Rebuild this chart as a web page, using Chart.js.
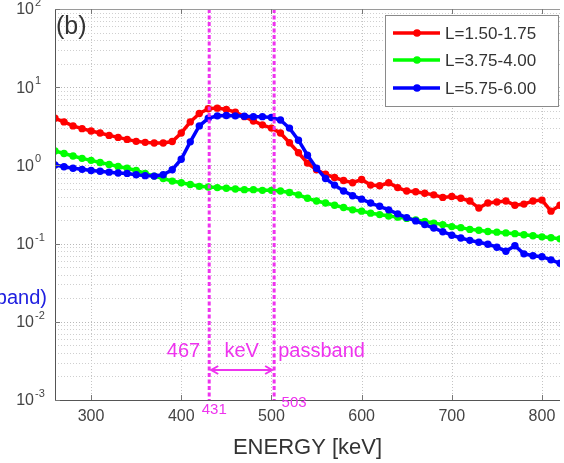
<!DOCTYPE html>
<html>
<head>
<meta charset="utf-8">
<script src="https://cdn.jsdelivr.net/npm/chart.js@4.4.1/dist/chart.umd.min.js"></script>
<style>
  html, body { margin: 0; padding: 0; background: #ffffff; }
  #c { display: block; }
</style>
</head>
<body>
<canvas id="c" width="564" height="463"></canvas>
<script>
// Energy channels [keV]
const energies = [260,270,280,290,300,310,320,330,340,350,360,370,380,390,400,410,420,430,440,450,
  460,470,480,490,500,510,520,530,540,550,560,570,580,590,600,610,620,630,640,650,
  660,670,680,690,700,710,720,730,740,750,760,770,780,790,800,810,820];

// Spectra per L-shell bin
const fluxL150 = [4.0,3.6,3.2,2.95,2.75,2.6,2.42,2.28,2.15,2.03,1.97,1.93,1.93,2.02,2.6,3.6,4.6,5.3,5.4,5.2,
  4.8,4.2,3.7,3.3,3.0,2.6,1.95,1.45,1.07,0.88,0.77,0.7,0.64,0.6,0.66,0.56,0.55,0.6,0.52,0.47,
  0.46,0.44,0.42,0.39,0.4,0.38,0.35,0.285,0.33,0.34,0.35,0.31,0.32,0.35,0.36,0.26,0.31];
const fluxL375 = [1.53,1.42,1.32,1.23,1.16,1.09,1.03,0.97,0.92,0.86,0.79,0.73,0.68,0.63,0.6,0.57,0.54,0.53,0.52,0.51,
  0.5,0.49,0.49,0.48,0.48,0.47,0.45,0.42,0.38,0.35,0.33,0.31,0.29,0.27,0.26,0.245,0.235,0.225,0.218,0.21,
  0.2,0.192,0.183,0.175,0.165,0.16,0.152,0.148,0.143,0.14,0.137,0.134,0.13,0.126,0.122,0.119,0.115];
const fluxL575 = [1.01,0.96,0.92,0.89,0.86,0.84,0.82,0.8,0.79,0.76,0.74,0.73,0.76,0.88,1.2,2.0,3.2,4.0,4.3,4.35,
  4.3,4.25,4.2,4.2,4.1,3.8,3.0,2.1,1.35,0.92,0.68,0.56,0.47,0.41,0.37,0.33,0.30,0.27,0.24,0.215,
  0.195,0.175,0.158,0.142,0.128,0.118,0.11,0.104,0.098,0.09,0.08,0.094,0.074,0.07,0.068,0.062,0.056];

const seriesLabels = ['L=1.50-1.75', 'L=3.75-4.00', 'L=5.75-6.00'];
const seriesColors = ['#ff0000', '#00ff00', '#0000ff'];

// Axis ticks
const xTicks = [300, 400, 500, 600, 700, 800];
const yExponents = [-3, -2, -1, 0, 1, 2];

// Passband edges [keV] and centre
const passLow = 431;
const passHigh = 503;
const passCentre = 467;

const FONT = '"Liberation Sans", Arial, Helvetica, sans-serif';
const MAGENTA = '#ee33ee';

function pts(vals) { return energies.map((e, i) => ({ x: e, y: vals[i] })); }

const seriesData = [fluxL150, fluxL375, fluxL575];
const datasets = seriesData.map((vals, i) => ({
  label: seriesLabels[i],
  data: pts(vals),
  borderColor: seriesColors[i],
  backgroundColor: seriesColors[i],
  borderWidth: 3.5,
  pointRadius: 3.7,
  pointBorderWidth: 0,
  pointBackgroundColor: seriesColors[i],
  tension: 0,
  order: 3 - i
}));

const decor = {
  id: 'decor',
  beforeDatasetsDraw(chart) {
    const { ctx, chartArea: a, scales: { x, y } } = chart;
    ctx.save();
    ctx.beginPath();
    ctx.rect(a.left, a.top, a.right - a.left, a.bottom - a.top);
    ctx.clip();
    ctx.strokeStyle = '#c4c4c4';
    ctx.lineWidth = 1;
    ctx.setLineDash([1, 2]);
    xTicks.forEach(v => {
      const px = Math.round(x.getPixelForValue(v)) + 0.5;
      ctx.beginPath(); ctx.moveTo(px, a.top); ctx.lineTo(px, a.bottom); ctx.stroke();
    });
    for (let k = -3; k <= 1; k++) {
      for (let m = 1; m <= 9; m++) {
        const py = Math.round(y.getPixelForValue(m * Math.pow(10, k))) + 0.5;
        ctx.strokeStyle = m === 1 ? '#b8b8b8' : '#cfcfcf';
        ctx.beginPath(); ctx.moveTo(a.left, py); ctx.lineTo(a.right, py); ctx.stroke();
      }
    }
    ctx.restore();
  },
  afterDatasetsDraw(chart) {
    const { ctx, chartArea: a, scales: { x, y } } = chart;
    ctx.save();

    // passband edges
    ctx.strokeStyle = MAGENTA;
    ctx.lineWidth = 3;
    ctx.setLineDash([4, 2.5]);
    [passLow, passHigh].forEach(v => {
      const px = x.getPixelForValue(v);
      ctx.beginPath(); ctx.moveTo(px, a.top); ctx.lineTo(px, a.bottom); ctx.stroke();
    });
    ctx.setLineDash([]);

    // axes box
    ctx.lineWidth = 1;
    ctx.strokeStyle = '#9a9a9a';
    ctx.beginPath(); ctx.moveTo(a.left, a.top + 0.5); ctx.lineTo(a.right, a.top + 0.5); ctx.stroke();
    ctx.strokeStyle = '#555';
    ctx.beginPath();
    ctx.moveTo(a.left + 0.5, a.top); ctx.lineTo(a.left + 0.5, a.bottom + 0.5); ctx.lineTo(a.right, a.bottom + 0.5);
    ctx.stroke();

    // tick marks (inside)
    ctx.strokeStyle = '#777';
    xTicks.forEach(v => {
      const px = Math.round(x.getPixelForValue(v)) + 0.5;
      ctx.beginPath(); ctx.moveTo(px, a.bottom); ctx.lineTo(px, a.bottom - 5); ctx.stroke();
      ctx.beginPath(); ctx.moveTo(px, a.top); ctx.lineTo(px, a.top + 5); ctx.stroke();
    });
    yExponents.forEach(k => {
      const py = Math.round(y.getPixelForValue(Math.pow(10, k))) + 0.5;
      ctx.beginPath(); ctx.moveTo(a.left, py); ctx.lineTo(a.left + 5, py); ctx.stroke();
    });

    // y tick labels with superscript exponents
    ctx.fillStyle = '#444';
    ctx.textBaseline = 'middle';
    yExponents.forEach(k => {
      const py = y.getPixelForValue(Math.pow(10, k));
      ctx.font = '16px ' + FONT;
      ctx.textAlign = 'right';
      ctx.fillText('10', 34, py + 1);
      ctx.font = '11px ' + FONT;
      ctx.textAlign = 'left';
      ctx.fillText(String(k), 35, py - 6);
    });

    // passband annotation
    const pL = x.getPixelForValue(passLow);
    const pH = x.getPixelForValue(passHigh);
    const pC = x.getPixelForValue(passCentre);
    ctx.fillStyle = MAGENTA;
    ctx.font = '20px ' + FONT;
    ctx.textBaseline = 'middle';
    ctx.textAlign = 'right';
    ctx.fillText('467', pL - 9, 351);
    ctx.textAlign = 'center';
    ctx.fillText('keV', pC, 351);
    ctx.textAlign = 'left';
    ctx.fillText('passband', pH + 4, 351);

    ctx.font = '15px ' + FONT;
    ctx.textAlign = 'center';
    ctx.fillText(String(passLow), pL + 5, 410);
    ctx.fillText(String(passHigh), pH + 20, 403);

    // double arrow between the edges
    const ay = 370;
    const x0 = pL + 2, x1 = pH - 2;
    ctx.strokeStyle = MAGENTA;
    ctx.lineWidth = 2;
    ctx.beginPath(); ctx.moveTo(x0, ay); ctx.lineTo(x1, ay); ctx.stroke();
    ctx.beginPath(); ctx.moveTo(x0 + 7, ay - 4); ctx.lineTo(x0, ay); ctx.lineTo(x0 + 7, ay + 4); ctx.stroke();
    ctx.beginPath(); ctx.moveTo(x1 - 7, ay - 4); ctx.lineTo(x1, ay); ctx.lineTo(x1 - 7, ay + 4); ctx.stroke();

    // panel label
    ctx.fillStyle = '#333';
    ctx.font = '25px ' + FONT;
    ctx.textAlign = 'left';
    ctx.textBaseline = 'middle';
    ctx.fillText('(b)', 56, 27);

    // neighbouring axis label fragment
    ctx.fillStyle = '#2020e0';
    ctx.font = '20px ' + FONT;
    ctx.textAlign = 'right';
    ctx.fillText('band)', 47, 298);

    // legend
    const lx = 385.5, ly = 15.5, lw = 173, lh = 91;
    ctx.fillStyle = '#ffffff';
    ctx.fillRect(lx, ly, lw, lh);
    ctx.strokeStyle = '#8a8a8a';
    ctx.lineWidth = 1;
    ctx.strokeRect(lx, ly, lw, lh);
    const rows = [33, 60, 88];
    seriesLabels.forEach((lab, i) => {
      const ry = rows[i];
      ctx.strokeStyle = seriesColors[i];
      ctx.lineWidth = 3.5;
      ctx.beginPath(); ctx.moveTo(393, ry); ctx.lineTo(440, ry); ctx.stroke();
      ctx.fillStyle = seriesColors[i];
      ctx.beginPath(); ctx.arc(417, ry, 3.8, 0, Math.PI * 2); ctx.fill();
      ctx.fillStyle = '#333';
      ctx.font = '17px ' + FONT;
      ctx.textAlign = 'left';
      ctx.textBaseline = 'middle';
      ctx.fillText(lab, 445, ry + 1);
    });

    ctx.restore();
  }
};

new Chart(document.getElementById('c'), {
  type: 'line',
  data: { datasets },
  options: {
    responsive: false,
    animation: false,
    devicePixelRatio: 1,
    layout: { padding: { top: 9, right: 0, left: 0, bottom: 0 } },
    plugins: { legend: { display: false }, tooltip: { enabled: false } },
    scales: {
      x: {
        type: 'linear',
        min: 260,
        max: 820,
        grid: { display: false, drawTicks: false },
        border: { display: false },
        afterBuildTicks: s => { s.ticks = xTicks.map(v => ({ value: v })); },
        afterFit: s => { s.height = 63; },
        ticks: { font: { size: 16, family: FONT }, color: '#444', padding: 7, maxRotation: 0 },
        title: { display: true, text: 'ENERGY [keV]', font: { size: 22, family: FONT }, color: '#333',
                 padding: { top: 0, bottom: 2 } }
      },
      y: {
        type: 'logarithmic',
        min: 1e-3,
        max: 100,
        grid: { display: false, drawTicks: false },
        border: { display: false },
        ticks: { display: false },
        afterFit: s => { s.width = 55; }
      }
    }
  },
  plugins: [decor]
});
</script>
</body>
</html>
